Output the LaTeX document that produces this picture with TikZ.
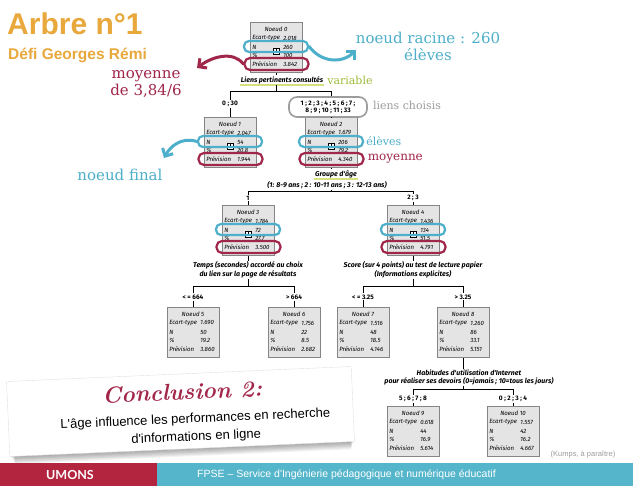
\documentclass[tikz,border=0pt]{standalone}
\usepackage{fontspec}
\usetikzlibrary{calc,arrows.meta}
\newfontfamily\headfont{Liberation Sans}
\newfontfamily\slabfont{DejaVu Serif}
\newfontfamily\boxfont{Fira Sans}
\newfontfamily\logofont{Lato}

\definecolor{titleorange}{HTML}{E8A83C}
\definecolor{annblue}{HTML}{4DAFC9}
\definecolor{annred}{HTML}{A0264A}
\definecolor{anngreen}{HTML}{9DBA36}
\definecolor{hilite}{HTML}{D6E07E}
\definecolor{boxfill}{HTML}{E4E4E4}
\definecolor{boxline}{HTML}{858585}
\definecolor{footred}{HTML}{B3253F}
\definecolor{footblue}{HTML}{55B6CB}
\definecolor{concred}{HTML}{A3274A}
\definecolor{softgray}{HTML}{9C9C9C}

\tikzset{
  nodebox/.style={draw=boxline, line width=0.9pt, fill=boxfill,
    minimum width=52pt, minimum height=50pt, inner sep=0pt},
  boxtxt/.style={font=\boxfont\itshape\fontsize{6.1}{6.1}\selectfont, inner sep=0pt},
  splitlbl/.style={font=\boxfont\bfseries\itshape\fontsize{7}{8.5}\selectfont,
    inner sep=0.8pt, align=center},
  catlbl/.style={font=\boxfont\bfseries\fontsize{6.5}{7.2}\selectfont, inner sep=1pt, align=center},
  choicepill/.style={draw=softgray, line width=1.6pt, rounded corners=8pt,
    minimum width=78pt, minimum height=20pt},
  link/.style={line width=1pt, black},
  hiline/.style={line width=2.6pt, hilite},
  bluepill/.style={draw=annblue, line width=2.2pt, rounded corners=5pt,
    minimum height=11pt, inner sep=0pt},
  redpill/.style={draw=annred, line width=2.2pt, rounded corners=5.5pt,
    minimum height=12pt, inner sep=0pt},
  annarrow/.style={line width=3pt, line cap=round,
    -{Straight Barb[length=6pt,width=12pt]}},
  bignote/.style={font=\slabfont\fontsize{15}{17}\selectfont, inner sep=0pt, align=center},
  smallnote/.style={font=\slabfont\fontsize{11}{12}\selectfont, inner sep=0pt},
}

% one decision-tree box: name, centre x, top y, number, sd, N, percent, forecast, expand icon
\newcommand\treebox[9]{%
  \node[nodebox, anchor=north] (#1) at (#2,#3) {};
  \node[boxtxt] at ($(#1.north)+(0,7)$) {Noeud #4};
  \node[boxtxt, anchor=west] at ($(#1.north west)+(2.5,16)$) {Ecart-type};
  \node[boxtxt, anchor=west] at ($(#1.north west)+(33.5,16)$) {#5};
  \node[boxtxt, anchor=west] at ($(#1.north west)+(2.5,25)$) {N};
  \node[boxtxt, anchor=west] at ($(#1.north west)+(33.5,25)$) {#6};
  \node[boxtxt, anchor=west] at ($(#1.north west)+(2.5,33.5)$) {\%};
  \node[boxtxt, anchor=west] at ($(#1.north west)+(33.5,33.5)$) {#7};
  \node[boxtxt, anchor=west] at ($(#1.north west)+(2.5,42.5)$) {Prévision};
  \node[boxtxt, anchor=west] at ($(#1.north west)+(33.5,42.5)$) {#8};
  \ifnum#9=1
    \draw[line width=0.4pt, fill=white] ($(#1.north)+(-3,26)$) rectangle ($(#1.north)+(3,32)$);
    \draw[line width=0.4pt] ($(#1.north)+(-1.8,29)$) -- ($(#1.north)+(1.8,29)$)
      ($(#1.north)+(0,27.2)$) -- ($(#1.north)+(0,30.8)$);
  \fi
}
% coloured outlines around the N row and the forecast row
\newcommand\rowpills[1]{%
  \node[bluepill, minimum width=64pt] (#1b) at ($(#1.north)+(0,24.5)$) {};
  \node[redpill, minimum width=64pt] (#1r) at ($(#1.north)+(0.5,42)$) {};
}

\begin{document}
\begin{tikzpicture}[x=1pt,y=-1pt]
\useasboundingbox (0,0) rectangle (633,486);
\fill[white] (0,0) rectangle (633,486);

% heading
\node[anchor=base west, inner sep=0pt, text=titleorange,
  font=\headfont\bfseries\fontsize{30}{30}\selectfont] (title) at (7,35) {Arbre n°1};
\node[anchor=base west, inner sep=0pt, text=titleorange,
  font=\headfont\bfseries\fontsize{15.5}{16}\selectfont] (subtitle) at (8,60) {Défi Georges Rémi};

% tree boxes
\treebox{n0}{276}{22}{0}{2.018}{260}{100}{3.842}{1}
\treebox{n1}{230}{117}{1}{2.047}{54}{20.8}{1.944}{1}
\treebox{n2}{331}{117}{2}{1.679}{206}{79.2}{4.340}{1}
\treebox{n3}{248}{205}{3}{1.784}{72}{27.7}{3.500}{1}
\treebox{n4}{413}{205}{4}{1.436}{134}{51.5}{4.791}{1}
\treebox{n5}{193}{307}{5}{1.690}{50}{19.2}{3.860}{0}
\treebox{n6}{294}{307}{6}{1.756}{22}{8.5}{2.682}{0}
\treebox{n7}{363}{307}{7}{1.516}{48}{18.5}{4.146}{0}
\treebox{n8}{463}{307}{8}{1.260}{86}{33.1}{5.151}{0}
\treebox{n9}{413}{406}{9}{0.618}{44}{16.9}{5.614}{0}
\treebox{n10}{513}{406}{10}{1.557}{42}{16.2}{4.667}{0}

% split on the root
\node[splitlbl] (s0) at (282,80) {Liens pertinents consultés};
\draw[hiline] ($(s0.south west)+(0,0.5)$) -- ($(s0.south east)+(0,0.5)$);
\node[smallnote, anchor=west, text=anngreen] (var0) at ($(s0.east)+(3,0.5)$) {variable};
\node[catlbl] (c1) at (230,104) {0 ; 30};
\node[catlbl, choicepill] (c2) at (328,107) {1 ; 2 ; 3 ; 4 ; 5 ; 6 ; 7 ;\\8 ; 9 ; 10 ; 11 ; 33};
\node[smallnote, anchor=west, text=softgray] (choix) at ($(c2.east)+(5,-2)$) {liens choisis};
\coordinate (bar0) at (0,92);
\draw[link] (n0.south) -- (n0.south |- s0.north);
\draw[link] (n0.south |- s0.south) -- (n0.south |- bar0);
\draw[link] (c1.north) -- (c1.north |- bar0) -- (n2.north |- bar0) -- (n2.north |- c2.north);
\draw[link] (c1.south) -- (n1.north);
\draw[link] (n2.north |- c2.south) -- (n2.north);

% split on node 2
\node[splitlbl] (s2) at (336,174) {Groupe d'âge};
\draw[hiline] ($(s2.south west)+(0,0.5)$) -- ($(s2.south east)+(0,0.5)$);
\node[splitlbl] (s2b) at (327,185) {(1: 8-9 ans ; 2 : 10-11 ans ; 3 : 12-13 ans)};
\node[catlbl] (c3) at (248,198) {1};
\node[catlbl] (c4) at (413,198) {2 ; 3};
\coordinate (bar2) at (0,192);
\draw[link] (n2.south) -- (n2.south |- s2.north);
\draw[link] (n2.south |- s2b.south) -- (n2.south |- bar2);
\draw[link] (c3.north) -- (c3.north |- bar2) -- (c4.north |- bar2) -- (c4.north);
\draw[link] (c3.south) -- (n3.north);
\draw[link] (c4.south) -- (n4.north);

% split on node 3
\node[splitlbl] (s3) at (248,270) {Temps (secondes) accordé au choix\\du lien sur la page de résultats};
\node[catlbl] (c5) at (193,297) {< = 664};
\node[catlbl] (c6) at (294,297) {> 664};
\coordinate (bar3) at (0,287);
\draw[link] (n3.south) -- (n3.south |- s3.north);
\draw[link] (n3.south |- s3.south) -- (n3.south |- bar3);
\draw[link] (c5.north) -- (c5.north |- bar3) -- (c6.north |- bar3) -- (c6.north);
\draw[link] (c5.south) -- (n5.north);
\draw[link] (c6.south) -- (n6.north);

% split on node 4
\node[splitlbl] (s4) at (413,270) {Score (sur 4 points) au test de lecture papier\\(Informations explicites)};
\node[catlbl] (c7) at (363,297) {< = 3.25};
\node[catlbl] (c8) at (463,297) {> 3.25};
\coordinate (bar4) at (0,287);
\draw[link] (n4.south) -- (n4.south |- s4.north);
\draw[link] (n4.south |- s4.south) -- (n4.south |- bar4);
\draw[link] (c7.north) -- (c7.north |- bar4) -- (c8.north |- bar4) -- (c8.north);
\draw[link] (c7.south) -- (n7.north);
\draw[link] (c8.south) -- (n8.north);

% split on node 8
\node[splitlbl] (s8) at (469,377.5) {Habitudes d'utilisation d'Internet\\pour réaliser ses devoirs (0=jamais ; 10=tous les jours)};
\node[catlbl] (c9) at (413,399) {5 ; 6 ; 7 ; 8};
\node[catlbl] (c10) at (513,399) {0 ; 2 ; 3 ; 4};
\coordinate (bar8) at (0,390);
\draw[link] (n8.south) -- (n8.south |- s8.north);
\draw[link] (n8.south |- s8.south) -- (n8.south |- bar8);
\draw[link] (c9.north) -- (c9.north |- bar8) -- (c10.north |- bar8) -- (c10.north);
\draw[link] (c9.south) -- (n9.north);
\draw[link] (c10.south) -- (n10.north);

% highlighted rows
\rowpills{n0}
\rowpills{n1}
\rowpills{n2}
\rowpills{n3}
\rowpills{n4}

% annotations
\node[bignote, text=annblue] (racine) at (428,46) {noeud racine : 260\\élèves};
\coordinate (racinetip) at (356,50);
\draw[annarrow, annblue] (n0b.east) .. controls +(12,16) and +(-14,14) .. (racinetip);

\node[bignote, text=annred] (moy0) at (146,84) {moyenne\\de 3,84/6};
\coordinate (moytip) at (197,68);
\draw[annarrow, annred] (n0r.west) .. controls +(-10,-13) and +(16,-12) .. (moytip);

\node[bignote, text=annblue] (final) at (120,175) {noeud final};
\coordinate (finaltip) at (164,158);
\draw[annarrow, annblue] (n1b.west) .. controls +(-16,-5) and +(6,-11) .. (finaltip);

\node[smallnote, anchor=west, text=annblue] (eleves2) at ($(n2b.east)+(2,0)$) {élèves};
\node[smallnote, anchor=west, text=annred, font=\slabfont\fontsize{12}{12}\selectfont] (moy2) at ($(n2r.east)+(3,0)$) {moyenne};

% source
\node[inner sep=0pt, text=softgray, font=\headfont\fontsize{7.5}{8}\selectfont] (src) at (583,455) {(Kumps, à paraître)};

% conclusion card
\begin{scope}[rotate around={2.5:(180,411)}, transform shape]
  \foreach \k in {1,...,7}
    \fill[black, opacity=0.05] ({9+0.6*\k},{378+0.6*\k}) rectangle ({352-0.4*\k},{449+1.1*\k});
  \node[draw=black!12, fill=white, minimum width=345pt, minimum height=75pt, inner sep=0pt]
    (card) at (180.5,411.5) {};
  \node[inner sep=0pt, text=concred, font=\rmfamily\bfseries\itshape\fontsize{23}{23}\selectfont]
    (conctitle) at (183,392) {Conclusion 2:};
  \node[inner sep=0pt, align=center, font=\headfont\fontsize{13}{18}\selectfont]
    (concbody) at (195,429) {L'âge influence les performances en recherche\\d'informations en ligne};
\end{scope}

% footer band
\fill[footred] (0,463) rectangle (157,486);
\fill[footblue] (157,463) rectangle (633,486);
\node[text=white, inner sep=0pt, font=\logofont\bfseries\fontsize{12.5}{13}\selectfont] (umons) at (70,475) {UMONS};
\node[text=white, anchor=west, inner sep=0pt, font=\headfont\fontsize{10.5}{11}\selectfont] (fpse) at (197,475)
  {FPSE – Service d'Ingénierie pédagogique et numérique éducatif};
\end{tikzpicture}
\end{document}
